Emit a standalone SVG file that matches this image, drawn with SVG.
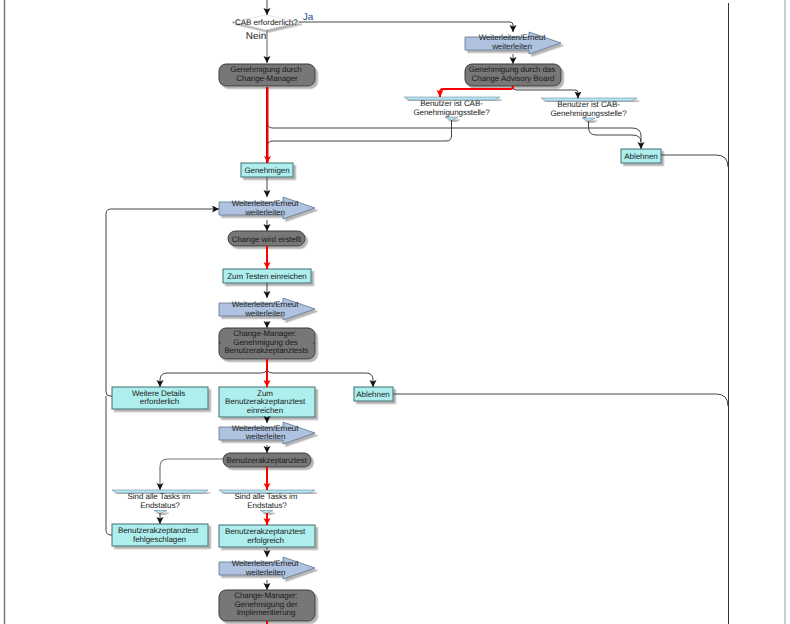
<svg xmlns="http://www.w3.org/2000/svg" width="790" height="624" viewBox="0 0 790 624">
<style>
text{font-family:"Liberation Sans",Arial,sans-serif;font-size:8px;letter-spacing:-.06px;fill:#1a1a1a;text-anchor:middle;text-rendering:geometricPrecision}
.c{fill:none;stroke:#444;stroke-width:1}
.g{fill:none;stroke:#777;stroke-width:1.2}
.r{fill:none;stroke:#f00;stroke-width:2}
.f{fill:#afc3e0;stroke:#5d7590;stroke-width:.8;filter:url(#s)}
.p{fill:#aeefee;stroke:#3f6f70;stroke-width:1;filter:url(#s)}
.d{fill:#777;stroke:#3a3a3a;stroke-width:1;filter:url(#s)}
.q{fill:#b5e6f0;stroke:#5d7590;stroke-width:.5;filter:url(#s)}
</style>
<defs>
<filter id="s" x="-10%" y="-20%" width="125%" height="150%"><feDropShadow dx="2.500" dy="2.500" stdDeviation=".7" flood-color="#b4b4b4"/></filter>
<marker id="a" markerUnits="userSpaceOnUse" markerWidth="9" markerHeight="8" refX="7" refY="3.500" orient="auto"><path d="M0 0L7 3.500L0 7L1.500 3.500Z" fill="#111"/></marker>
<marker id="b" markerUnits="userSpaceOnUse" markerWidth="9" markerHeight="8" refX="7" refY="3.500" orient="auto"><path d="M0 0L7 3.500L0 7L1.500 3.500Z" fill="#f00"/></marker>
<path id="fw" d="M0 5H64V0L96 11L64 22V18H0Z"/>
</defs>
<rect width="790" height="624" fill="#fff"/>
<path d="M4.500 0V624" stroke="#777" stroke-width="1.500" fill="none"/>
<path d="M785 0V624" stroke="#999" stroke-width="1" fill="none"/>
<path d="M728.500 3V624" stroke="#333" fill="none"/>
<g id="cab"><path d="M232 22L266 15L300 22L266 30Z" fill="#fff" stroke="#ccc" stroke-width=".5" filter="url(#s)"/><text x="265" y="25" style="font-size:8.100px">-CAB erforderlich?</text></g>
<g id="ja"><text x="308" y="20" style="font-size:10px;fill:#1e4f8f">Ja</text></g>
<g id="nein"><text x="256" y="39" style="font-size:10px;fill:#222">Nein</text></g>
<g id="gcm"><rect class="d" x="219" y="64" width="96" height="22" rx="7"/><text x="266" y="72">Genehmigung durch</text><text x="267" y="81">Change-Manager</text></g>
<g id="f1"><use href="#fw" class="f" x="465" y="32"/><text x="512" y="40">Weiterleiten/Erneut</text><text x="512" y="49">weiterleiten</text></g>
<g id="gcab"><rect class="d" x="465" y="64" width="96" height="22" rx="7"/><text x="512" y="72">Genehmigung durch das</text><text x="513" y="81">Change Advisory Board</text></g>
<g id="q1"><path class="q" d="M404 97H500L495 100H409Z"/><path class="q" d="M445 117H458L451.500 120.500Z"/><text x="451.500" y="106">Benutzer ist CAB-</text><text x="451.500" y="115">Genehmigungsstelle?</text></g>
<g id="q2"><path class="q" d="M541 98H637L632 101H546Z"/><path class="q" d="M582 118H595L588.500 121.500Z"/><text x="588.500" y="107">Benutzer ist CAB-</text><text x="588.500" y="116">Genehmigungsstelle?</text></g>
<g id="abl1"><rect class="p" x="621" y="149" width="40" height="14"/><text x="641" y="158.500">Ablehnen</text></g>
<g id="gen"><rect class="p" x="241" y="163" width="52" height="14"/><text x="267" y="172.500">Genehmigen</text></g>
<g id="f2"><use href="#fw" class="f" x="219" y="197"/><text x="265" y="206">Weiterleiten/Erneut</text><text x="265" y="215">weiterleiten</text></g>
<g id="cwe"><rect class="d" x="228" y="231" width="77" height="15" rx="7.500"/><text x="266.500" y="241.500">Change wird erstellt</text></g>
<g id="zte"><rect class="p" x="223" y="269" width="88" height="14"/><text x="267" y="278.500">Zum Testen einreichen</text></g>
<g id="f3"><use href="#fw" class="f" x="219" y="298"/><text x="265" y="307">Weiterleiten/Erneut</text><text x="265" y="315.500">weiterleiten</text></g>
<g id="cm1"><rect class="d" x="219" y="328" width="96" height="31" rx="7"/><circle cx="220" cy="343" r="1" fill="#444"/><circle cx="314" cy="343" r="1" fill="#444"/><text x="265" y="336">Change-Manager:</text><text x="265.500" y="344.500">Genehmigung des</text><text x="266.500" y="353">Benutzerakzeptanztests</text></g>
<g id="wde"><rect class="p" x="112" y="387" width="96" height="22"/><text x="158.500" y="395.500">Weitere Details</text><text x="159.500" y="404">erforderlich</text></g>
<g id="zbe"><rect class="p" x="219" y="387" width="96" height="30"/><text x="265" y="395.500">Zum</text><text x="265" y="404">Benutzerakzeptanztest</text><text x="265" y="412.500">einreichen</text></g>
<g id="abl2"><rect class="p" x="354" y="387" width="39" height="14"/><text x="373" y="396.500">Ablehnen</text></g>
<g id="f4"><use href="#fw" class="f" x="219" y="422"/><text x="265" y="430.500">Weiterleiten/Erneut</text><text x="265.500" y="439">weiterleiten</text></g>
<g id="bat"><rect class="d" x="223" y="453" width="88" height="14" rx="7"/><text x="266.500" y="462.500">Benutzerakzeptanztest</text></g>
<g id="q3"><path class="q" d="M112 490H208L203 493H117Z"/><path class="q" d="M154 510.500H167L160 513.500Z"/><text x="159" y="499">Sind alle Tasks im</text><text x="160" y="507.500">Endstatus?</text></g>
<g id="q4"><path class="q" d="M219 490H315L310 493H224Z"/><path class="q" d="M260 510.500H273L266.500 513.500Z"/><text x="266" y="499">Sind alle Tasks im</text><text x="267" y="507.500">Endstatus?</text></g>
<g id="baf"><rect class="p" x="112" y="524" width="96" height="22"/><text x="158" y="533">Benutzerakzeptanztest</text><text x="159.500" y="541.500">fehlgeschlagen</text></g>
<g id="bae"><rect class="p" x="219" y="525" width="96" height="22"/><text x="265" y="534">Benutzerakzeptanztest</text><text x="265.500" y="542.500">erfolgreich</text></g>
<g id="f5"><use href="#fw" class="f" x="219" y="557"/><text x="265" y="566">Weiterleiten/Erneut</text><text x="265.500" y="575">weiterleiten</text></g>
<g id="cm2"><rect class="d" x="219" y="590" width="96" height="31" rx="7"/><text x="266" y="598">Change-Manager:</text><text x="266" y="606.500">Genehmigung der</text><text x="266" y="615">Implementierung</text></g>
<g id="connectors">
<path class="c" d="M267 0V15" marker-end="url(#a)"/>
<path class="g" d="M267 30V63" marker-end="url(#a)"/>
<path class="c" d="M299 22H510Q513 22 513 25V32" marker-end="url(#a)"/>
<path class="g" d="M513 54V64" marker-end="url(#a)"/>
<path class="c" d="M513 87Q513 90 516 90H575Q578 90 578 93V98.500" marker-end="url(#a)"/>
<path class="r" d="M513 86V86.500Q513 89 510 89H443Q440 89 440 92V97" marker-end="url(#b)"/>
<path class="c" d="M267 122Q267 128 273 128H632Q641 128 641 136V149" marker-end="url(#a)"/>
<path class="c" d="M451.500 120V136Q451.500 141 446 141H273Q267 141 267 147"/>
<path class="c" d="M588.500 121V127Q588.500 135 596 135H632Q641 135 641 142"/>
<path d="M266.500 87V163" fill="none" stroke="#8a0000" stroke-width="1"/>
<path class="r" d="M267.500 87V163" marker-end="url(#b)"/>
<path class="c" d="M267 177V197" marker-end="url(#a)"/>
<path class="c" d="M267 220V231" marker-end="url(#a)"/>
<path class="r" d="M267 246V269" marker-end="url(#b)"/>
<path class="c" d="M267 283V298" marker-end="url(#a)"/>
<path class="c" d="M267 321V328" marker-end="url(#a)"/>
<path class="r" d="M267 359V387" marker-end="url(#b)"/>
<path class="c" d="M267 370Q265 373 262 373H167Q160 373 160 380V387" marker-end="url(#a)"/>
<path class="c" d="M267 370Q269 373 272 373H366Q373 373 373 380V387" marker-end="url(#a)"/>
<path class="c" d="M267 417V423" marker-end="url(#a)"/>
<path class="c" d="M267 445V453" marker-end="url(#a)"/>
<path class="r" d="M267 467V490" marker-end="url(#b)"/>
<path class="g" d="M223 459H168Q160 459 160 467V490" marker-end="url(#a)"/>
<path class="c" d="M160 513V524" marker-end="url(#a)"/>
<path class="r" d="M267 513V525" marker-end="url(#b)"/>
<path class="c" d="M267 547V557" marker-end="url(#a)"/>
<path class="c" d="M267 580V590" marker-end="url(#a)"/>
<path class="r" d="M267 621V624"/>
<path class="c" d="M112 396H110Q106 396 106 392V214Q106 209 111 209H219" marker-end="url(#a)"/>
<path class="c" d="M112 535H111Q106 535 106 530V396"/>
<path class="c" d="M661 155H716Q728 155 728 167"/>
<path class="c" d="M393 394H716Q728 394 728 406"/>
</g>
</svg>
